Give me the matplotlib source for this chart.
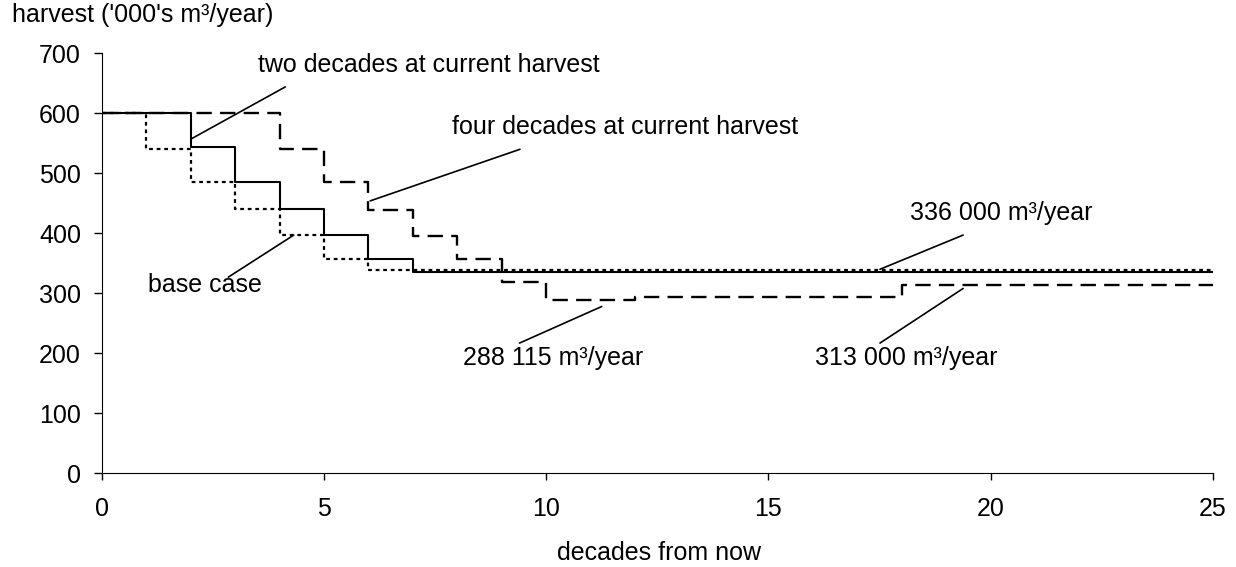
import matplotlib
matplotlib.use("Agg")
import matplotlib.pyplot as plt

plt.rcParams['font.family'] = ['Liberation Sans', 'DejaVu Sans']

# harvest scenarios ('000s m3/year), step values starting at each decade
base_decades = [0, 1, 2, 3, 4, 5, 6, 25]
base_case = [600, 540, 486, 440, 397, 357, 338, 338]

two_decades_x = [0, 2, 3, 4, 5, 6, 7, 25]
two_decades = [600, 543, 486, 440, 397, 357, 336, 336]

four_decades_x = [0, 4, 5, 6, 7, 8, 9, 10, 12, 18, 25]
four_decades = [600, 541, 486, 439, 395, 357, 318, 288, 293, 313, 313]

# label text, text left/centre position, leader line (from, to)
labels = [
    ("two decades at current harvest", (3.52, 680), (4.13, 644), (2.03, 558)),
    ("four decades at current harvest", (7.88, 577), (9.41, 540), (6.04, 454)),
    ("base case", (1.04, 314), (2.85, 327), (4.32, 397)),
    ("288 115 m³/year", (8.13, 192), (9.40, 217), (11.25, 278)),
    ("313 000 m³/year", (16.04, 192), (17.51, 217), (19.38, 308)),
    ("336 000 m³/year", (18.19, 434), (17.51, 340), (19.38, 397)),
]

fs = 18

fig = plt.figure(figsize=(12.36, 5.67), dpi=100)
ax = fig.add_axes([0.0823, 0.1653, 0.899, 0.7407])

ax.step(two_decades_x, two_decades, where='post', color='black', lw=1.5)
ax.step(base_decades, base_case, where='post', color='black', lw=1.6,
        dashes=(1.7, 1.7))
ax.step(four_decades_x, four_decades, where='post', color='black', lw=1.7,
        dashes=(6.5, 3.5))

for txt, pos, p0, p1 in labels:
    ax.text(pos[0], pos[1], txt, ha='left', va='center', fontsize=fs)
    ax.annotate('', xy=p1, xytext=p0,
                arrowprops=dict(arrowstyle='-', color='black', lw=1.2,
                                shrinkA=0, shrinkB=0))

ax.set_xlim(0, 25)
ax.set_ylim(0, 700)
ax.set_xticks(range(0, 26, 5))
ax.set_yticks(range(0, 701, 100))
ax.tick_params(axis='y', labelsize=fs, length=6, width=1, pad=9)
ax.tick_params(axis='x', labelsize=fs, length=5, width=1, pad=12)
ax.spines['top'].set_visible(False)
ax.spines['right'].set_visible(False)
fig.text(557 / 1236, 1 - 553 / 567, 'decades from now', fontsize=fs,
         ha='left', va='center')
fig.text(12 / 1236, 1 - 15 / 567, "harvest ('000's m³/year)", fontsize=fs,
         ha='left', va='center')

fig.savefig('out.png', dpi=100)
